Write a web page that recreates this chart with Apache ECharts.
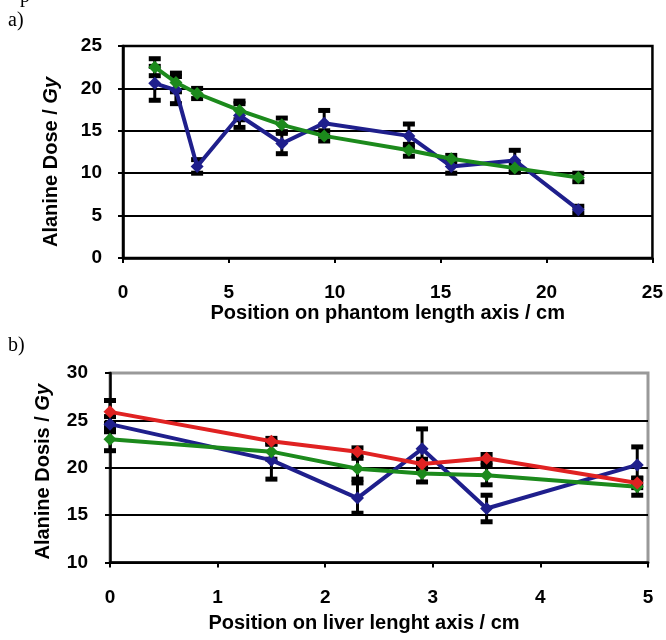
<!DOCTYPE html>
<html>
<head>
<meta charset="utf-8">
<script src="https://cdn.jsdelivr.net/npm/echarts@6/dist/echarts.min.js"></script>
<style>
html,body{margin:0;padding:0;background:#fff;}
#main{width:666px;height:640px;}
</style>
</head>
<body>
<div id="main"></div>
<script>
// a) phantom
var posA = [1.5, 2.5, 3.5, 5.5, 7.5, 9.5, 13.5, 15.5, 18.5, 21.5];
var blueA = [20.6, 19.8, 10.8, 16.8, 13.5, 15.9, 14.4, 10.8, 11.5, 5.7];
var blueErrA = [2.0, 1.6, 0.8, 1.4, 1.2, 1.5, 1.4, 0.8, 1.2, 0.4];
var greenA = [22.5, 20.7, 19.4, 17.4, 15.7, 14.4, 12.7, 11.7, 10.6, 9.5];
var greenErrA = [1.0, 1.1, 0.6, 1.1, 0.8, 0.6, 0.7, 0.4, 0.5, 0.5];

// b) liver
var posB = [0, 1.5, 2.3, 2.9, 3.5, 4.9];
var blueB = [24.6, 20.8, 16.8, 22.0, 15.7, 20.3];
var blueErrB = [0.8, 2.0, 1.6, 2.1, 1.4, 1.9];
var greenB = [23.0, 21.7, 19.9, 19.4, 19.2, 18.0];
var greenErrB = [1.2, 0.8, 1.1, 0.9, 1.0, 0.9];
var redB = [25.9, 22.8, 21.7, 20.4, 21.0, 18.4];
var redErrB = [1.2, 0.3, 0.4, 0.5, 0.4, 0.5];

var ticksA = [0, 5, 10, 15, 20, 25];
var ticksB = [10, 15, 20, 25, 30];

var FONT = "'Liberation Sans', Arial, sans-serif";
var BLUE = '#1f1f8c', GREEN = '#1c8a1c', RED = '#e02222';

function pts(xs, ys) {
	var out = [];
	for (var i = 0; i < xs.length; i++) out.push([xs[i], ys[i]]);
	return out;
}
function errPts(xs, ys, es) {
	var out = [];
	for (var i = 0; i < xs.length; i++) out.push([xs[i], ys[i], es[i]]);
	return out;
}

// error bar with caps
function renderErr(params, api) {
	var x = api.value(0), y = api.value(1), e = api.value(2);
	var top = api.coord([x, y + e]);
	var bot = api.coord([x, y - e]);
	var w = 6;
	return {
		type: 'group',
		children: [
			{type: 'line', shape: {x1: top[0], y1: top[1], x2: bot[0], y2: bot[1]}, style: {stroke: '#000', lineWidth: 3}},
			{type: 'line', shape: {x1: top[0] - w, y1: top[1], x2: top[0] + w, y2: top[1]}, style: {stroke: '#000', lineWidth: 5}},
			{type: 'line', shape: {x1: bot[0] - w, y1: bot[1], x2: bot[0] + w, y2: bot[1]}, style: {stroke: '#000', lineWidth: 5}}
		]
	};
}

function errSeries(idx, data) {
	return {type: 'custom', xAxisIndex: idx, yAxisIndex: idx, renderItem: renderErr, data: data, z: 1, silent: true};
}
function lineSeries(idx, data, color) {
	return {
		type: 'line', xAxisIndex: idx, yAxisIndex: idx, data: data,
		symbol: 'diamond', symbolSize: 13,
		itemStyle: {color: color},
		lineStyle: {color: color, width: 4},
		z: 3
	};
}

var labelStyle = {color: '#000', fontFamily: FONT, fontWeight: 'bold', fontSize: 19};
var nameStyle = {color: '#000', fontFamily: FONT, fontWeight: 'bold', fontSize: 20};
var richGy = {i: {fontStyle: 'italic', fontWeight: 'bold', fontSize: 20, fontFamily: FONT, color: '#000'}};

var myChart = echarts.init(document.getElementById('main'));
var option = {
	animation: false,
	graphic: [
		{type: 'text', left: 20, top: -13, style: {text: 'p', font: '20px "Liberation Serif", serif', fill: '#000'}},
		{type: 'text', left: 8, top: 11, style: {text: 'a)', font: '20px "Liberation Serif", serif', fill: '#000'}},
		{type: 'text', left: 8, top: 336, style: {text: 'b)', font: '20px "Liberation Serif", serif', fill: '#000'}}
	],
	grid: [
		{left: 123, top: 46, width: 530, height: 212, show: true, borderColor: '#000', borderWidth: 2.5},
		{left: 110, top: 373, width: 538, height: 189.5, show: true, borderColor: '#999', borderWidth: 3}
	],
	xAxis: [
		{
			gridIndex: 0, type: 'value', min: 0, max: 25, interval: 5,
			axisLine: {lineStyle: {color: '#000', width: 2.5}},
			axisTick: {length: 5, lineStyle: {color: '#000', width: 2}},
			splitLine: {show: false},
			axisLabel: Object.assign({margin: 25}, labelStyle),
			name: 'Position on phantom length axis / cm', nameLocation: 'middle', nameGap: 45,
			nameTextStyle: nameStyle
		},
		{
			gridIndex: 1, type: 'value', min: 0, max: 5, interval: 1,
			axisLine: {lineStyle: {color: '#000', width: 2.5}},
			axisTick: {length: 5, lineStyle: {color: '#000', width: 2}},
			splitLine: {show: false},
			axisLabel: Object.assign({margin: 26}, labelStyle),
			name: 'Position on liver lenght axis / cm', nameLocation: 'middle', nameGap: 51,
			nameTextStyle: Object.assign({padding: [0, 30, 0, 0]}, nameStyle)
		}
	],
	yAxis: [
		{
			gridIndex: 0, type: 'value', min: ticksA[0], max: ticksA[ticksA.length - 1], interval: 5,
			axisLine: {show: true, lineStyle: {color: '#000', width: 2.5}},
			axisTick: {show: true, length: 5, lineStyle: {color: '#000', width: 2}},
			splitLine: {lineStyle: {color: '#000', width: 2}},
			axisLabel: Object.assign({margin: 21}, labelStyle),
			name: 'Alanine Dose / {i|Gy}', nameLocation: 'middle', nameGap: 62,
			nameTextStyle: Object.assign({padding: [0, 20, 0, 0], rich: richGy}, nameStyle)
		},
		{
			gridIndex: 1, type: 'value', min: ticksB[0], max: ticksB[ticksB.length - 1], interval: 5,
			axisLine: {show: true, lineStyle: {color: '#000', width: 2.5}},
			axisTick: {show: true, length: 5, lineStyle: {color: '#000', width: 2}},
			splitLine: {showMaxLine: false, lineStyle: {color: '#000', width: 2}},
			axisLabel: Object.assign({margin: 22}, labelStyle),
			name: 'Alanine Dosis / {i|Gy}', nameLocation: 'middle', nameGap: 57,
			nameTextStyle: Object.assign({padding: [0, 8, 0, 0], rich: richGy}, nameStyle)
		}
	],
	series: [
		errSeries(0, errPts(posA, blueA, blueErrA)),
		errSeries(0, errPts(posA, greenA, greenErrA)),
		lineSeries(0, pts(posA, blueA), BLUE),
		lineSeries(0, pts(posA, greenA), GREEN),
		errSeries(1, errPts(posB, blueB, blueErrB)),
		errSeries(1, errPts(posB, greenB, greenErrB)),
		errSeries(1, errPts(posB, redB, redErrB)),
		lineSeries(1, pts(posB, blueB), BLUE),
		lineSeries(1, pts(posB, greenB), GREEN),
		lineSeries(1, pts(posB, redB), RED)
	]
};
myChart.setOption(option);
</script>
</body>
</html>
